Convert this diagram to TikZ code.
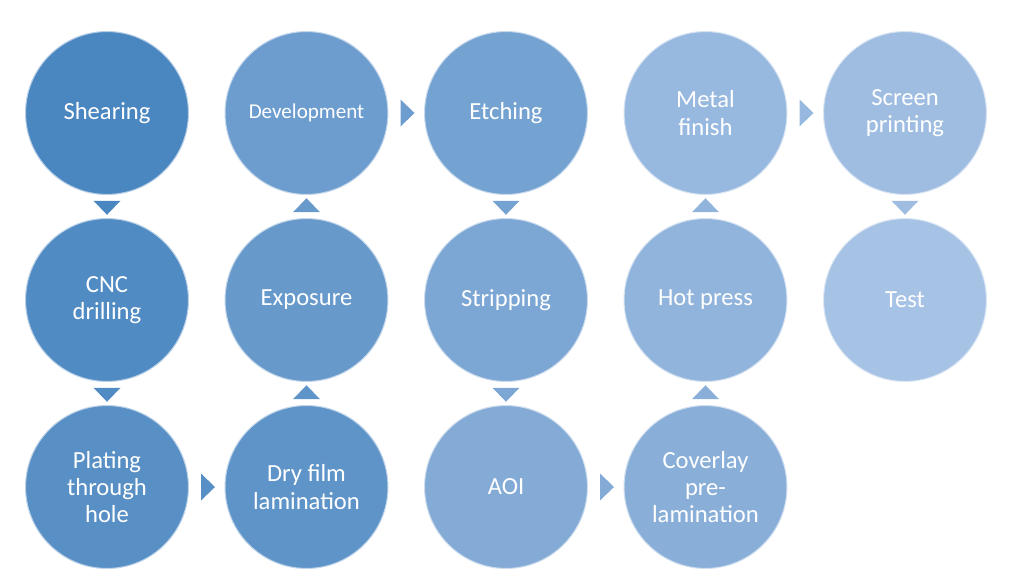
\documentclass[tikz,border=0pt]{standalone}
\usepackage{fontspec}
\setmainfont{Carlito}
\usepackage{tikz}
\usetikzlibrary{shapes.geometric, positioning}
\definecolor{flowdark}{RGB}{74,134,192}
\definecolor{flowlight}{RGB}{166,194,228}
\tikzset{
    stage/.style={circle, minimum size=3.28cm, inner sep=2pt, align=center, text=white,
                  fill=flowlight!#1!flowdark, draw=white, draw opacity=0.6, line width=1.2pt},
    pointer/.style={isosceles triangle, isosceles triangle stretches, inner sep=0pt,
                    minimum width=0.54cm, minimum height=0.28cm, fill=flowlight!#1!flowdark}
}

\begin{document}
\begin{tikzpicture}[
    node distance = 3.74cm and 3.99cm, on grid,
    every node/.style={font=\fontsize{14}{15.5}\selectfont}
]
\useasboundingbox (0,0) rectangle (20.48,-11.74);

% -------- Column 1 (top to bottom) --------
\node[stage=0]                  (shear)  at (2.14,-2.26) {Shearing};
\node[stage=8, below=of shear]  (cnc)    {CNC\\drilling};
\node[stage=15, below=of cnc]   (plate)  {Plating\\through\\hole};

% -------- Column 2 (bottom to top) --------
\node[stage=23, right=of plate] (dry)    {Dry film\\lamination};
\node[stage=31, above=of dry]   (expo)   {Exposure};
\node[stage=38, above=of expo, font=\fontsize{12}{14}\selectfont] (devel) {Development};

% -------- Column 3 (top to bottom) --------
\node[stage=46, right=of devel] (etch)   {Etching};
\node[stage=54, below=of etch]  (strip)  {Stripping};
\node[stage=62, below=of strip] (aoi)    {AOI};

% -------- Column 4 (bottom to top) --------
\node[stage=69, right=of aoi]   (cover)  {Coverlay\\pre-\\lamination};
\node[stage=77, above=of cover] (hot)    {Hot press};
\node[stage=85, above=of hot]   (metal)  {Metal\\finish};

% -------- Column 5 (top to bottom) --------
\node[stage=92, right=of metal] (screen) {Screen\\printing};
\node[stage=100, below=of screen] (test) {Test};

% -------- Flow pointers --------
\path (shear) -- node[pointer=0, rotate=-90]  (p1)  {} (cnc);
\path (cnc)   -- node[pointer=8, rotate=-90]  (p2)  {} (plate);
\path (plate) -- node[pointer=15]             (p3)  {} (dry);
\path (dry)   -- node[pointer=23, rotate=90]  (p4)  {} (expo);
\path (expo)  -- node[pointer=31, rotate=90]  (p5)  {} (devel);
\path (devel) -- node[pointer=38]             (p6)  {} (etch);
\path (etch)  -- node[pointer=46, rotate=-90] (p7)  {} (strip);
\path (strip) -- node[pointer=54, rotate=-90] (p8)  {} (aoi);
\path (aoi)   -- node[pointer=62]             (p9)  {} (cover);
\path (cover) -- node[pointer=69, rotate=90]  (p10) {} (hot);
\path (hot)   -- node[pointer=77, rotate=90]  (p11) {} (metal);
\path (metal) -- node[pointer=85]             (p12) {} (screen);
\path (screen) -- node[pointer=92, rotate=-90] (p13) {} (test);

\end{tikzpicture}
\end{document}
